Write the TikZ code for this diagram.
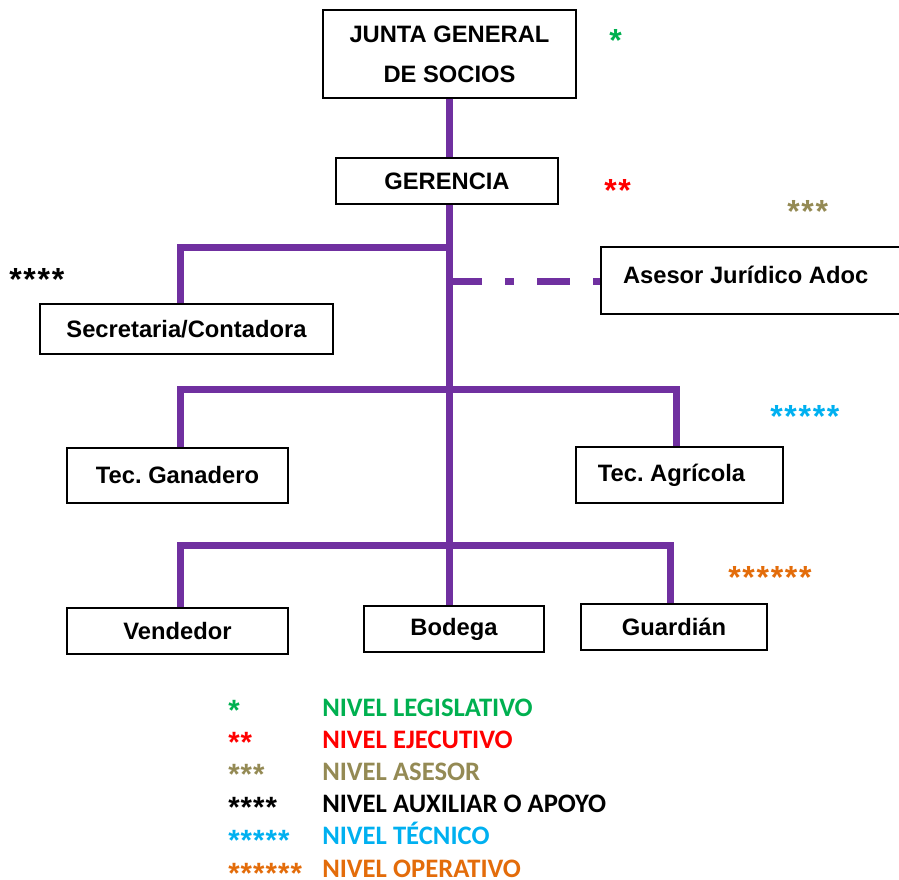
\documentclass[tikz,border=0pt]{standalone}
\usepackage{fontspec}
\setmainfont{Liberation Sans}
\newfontfamily\legfont{Carlito}
\definecolor{conncol}{HTML}{7030A0}
\definecolor{cgreen}{HTML}{00B050}
\definecolor{cred}{HTML}{FF0000}
\definecolor{colive}{HTML}{948A54}
\definecolor{ccyan}{HTML}{00B0F0}
\definecolor{corange}{HTML}{E36C0A}
\newcommand\ska{\kern1.3pt}
\newcommand\skb{\kern0.8pt}
\begin{document}
\frenchspacing
\begin{tikzpicture}[x=0.75pt,y=-0.75pt,
  box/.style={draw=black, line width=1.1pt, fill=white, inner sep=0pt,
    font=\fontsize{17.8pt}{30pt}\selectfont\bfseries, align=center},
  conn/.style={draw=conncol, line width=5.25pt},
  lvl/.style={font=\fontsize{24pt}{26pt}\selectfont\bfseries, anchor=base west, inner sep=0pt},
  klvl/.style={font=\fontsize{22pt}{24pt}\selectfont\bfseries, anchor=base west, inner sep=0pt},
  leg/.style={font=\legfont\fontsize{20pt}{21pt}\selectfont\bfseries, anchor=base west, inner sep=0pt}]
\useasboundingbox (0,0) rectangle (899,879);

% boxes
\node[box, minimum width=189.75pt, minimum height=66pt] (junta) at (449.5,54) {JUNTA GENERAL\\DE SOCIOS};
\node[box, minimum width=166.5pt, minimum height=34.5pt] (gerencia) at (447,181) {\raisebox{-1pt}{GERENCIA}};
\node[box, minimum width=219.75pt, minimum height=37.5pt] (secretaria) at (186.5,329) {Secretaria/Contadora};
\node[box, minimum width=225pt, minimum height=50.25pt] (asesor) at (751,280.5) {\hspace*{-8pt}\raisebox{8.5pt}{Asesor Jurídico Adoc}};
\node[box, minimum width=165.75pt, minimum height=41.25pt] (ganadero) at (177.5,475.5) {Tec. Ganadero};
\node[box, minimum width=155.25pt, minimum height=42pt] (agricola) at (679.5,475) {\hspace*{-12pt}Tec. Agrícola};
\node[box, minimum width=165.75pt, minimum height=34.5pt] (vendedor) at (177.5,631) {Vendedor};
\node[box, minimum width=135pt, minimum height=34.5pt] (bodega) at (454,629) {\raisebox{-1.5pt}{Bodega}};
\node[box, minimum width=139.5pt, minimum height=34.5pt] (guardian) at (674,627) {Guardián};

% connectors
\coordinate (tx) at (449,0);
\coordinate (t1) at (449,247);
\coordinate (l1) at (180,247);
\coordinate (d0) at (449,281);
\coordinate (l2) at (180,389);
\coordinate (r2) at (676,389);
\coordinate (l3) at (180,545);
\coordinate (r3) at (670,545);
\draw[conn] (tx |- junta.south) -- (tx |- gerencia.north);
\draw[conn] (tx |- gerencia.south) -- (tx |- bodega.north);
\draw[conn] (t1) -- (l1) -- (l1 |- secretaria.north);
\draw[conn, dash pattern=on 24.75pt off 17.25pt on 6.75pt off 17.25pt] (d0) -- (d0 -| asesor.west);
\draw[conn] (l2 |- ganadero.north) -- (l2) -- (r2) -- (r2 |- agricola.north);
\draw[conn] (l3 |- vendedor.north) -- (l3) -- (r3) -- (r3 |- guardian.north);

% level stars
\node[lvl, text=cgreen] (s1) at (609,51.5) {*};
\node[lvl, text=cred] (s2) at (604,201.5) {*\ska*};
\node[lvl, text=colive] (s3) at (787,222.5) {*\ska*\ska*};
\node[lvl, text=black] (s4) at (9,290.5) {*\ska*\ska*\ska*};
\node[lvl, text=ccyan] (s5) at (770,427.5) {*\ska*\ska*\ska*\ska*};
\node[lvl, text=corange] (s6) at (728,588.5) {*\ska*\ska*\ska*\ska*\ska*};

% legend
\node[klvl, text=cgreen] (k1) at (228,720) {*};
\node[klvl, text=cred] (k2) at (228,752) {*\skb*};
\node[klvl, text=colive] (k3) at (228,784) {*\skb*\skb*};
\node[klvl, text=black] (k4) at (228,817) {*\skb*\skb*\skb*};
\node[klvl, text=ccyan] (k5) at (228,850) {*\skb*\skb*\skb*\skb*};
\node[klvl, text=corange] (k6) at (228,883) {*\skb*\skb*\skb*\skb*\skb*};
\node[leg, text=cgreen] (n1) at (322,716) {NIVEL LEGISLATIVO};
\node[leg, text=cred] (n2) at (322,748) {NIVEL EJECUTIVO};
\node[leg, text=colive] (n3) at (322,780) {NIVEL ASESOR};
\node[leg, text=black] (n4) at (322,812) {NIVEL AUXILIAR O APOYO};
\node[leg, text=ccyan] (n5) at (322,844) {NIVEL TÉCNICO};
\node[leg, text=corange] (n6) at (322,877) {NIVEL OPERATIVO};
\end{tikzpicture}
\end{document}
